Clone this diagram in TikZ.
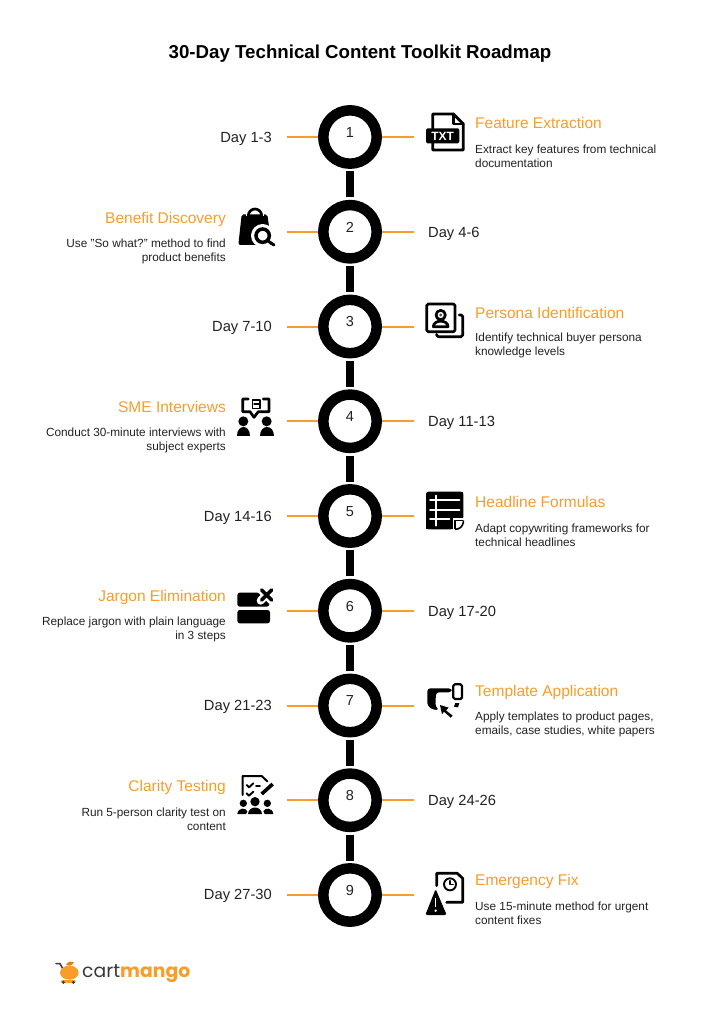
\documentclass[tikz,border=0pt]{standalone}
\usepackage{fontspec}
\setmainfont{Liberation Sans}
\newfontfamily\logofont{Poppins}
\definecolor{accent}{HTML}{F99D2A}
\definecolor{ink}{HTML}{222222}
\definecolor{logodark}{HTML}{3A3A3A}
\tikzset{
  ring/.style={circle,draw=black,fill=white,line width=10.5pt,minimum size=53.4pt,inner sep=0pt},
  spine/.style={line width=8.6pt,black,shorten >=2.5pt,shorten <=2.5pt},
  tick/.style={accent,line width=1.6pt},
  num/.style={text=ink,font=\fontsize{14.5}{16}\selectfont,inner sep=0pt},
  daylabel/.style={text=ink,font=\fontsize{14.7}{16}\selectfont,inner sep=0pt},
  headR/.style={text=accent,anchor=west,inner sep=0pt,font=\fontsize{15.5}{18}\selectfont},
  headL/.style={text=accent,anchor=east,inner sep=0pt,font=\fontsize{15.5}{18}\selectfont},
  descR/.style={text=ink,anchor=west,align=left,inner sep=0pt,font=\fontsize{11.8}{14}\selectfont},
  descL/.style={text=ink,anchor=east,align=right,inner sep=0pt,font=\fontsize{11.8}{14}\selectfont},
  iconbox/.style 2 args={shift={(#1,#2)},x=.3333pt,y=-.3333pt},
  o/.style={line width=2.7pt,line join=round,line cap=round,black},
  w/.style={line width=2pt,white,line cap=round},
}
\begin{document}
\begin{tikzpicture}[x=1pt,y=-1pt]
\useasboundingbox (0,0) rectangle (719,1024);
\fill[white] (0,0) rectangle (719,1024);
\node[inner sep=0pt,font=\bfseries\fontsize{18.7}{20}\selectfont,text=black] (title) at (360,54) {30-Day Technical Content Toolkit Roadmap};
% rings, ticks, numbers
\foreach \i in {1,...,9}{
  \pgfmathsetmacro\yy{137+94.75*(\i-1)}
  \pgfmathsetmacro\ny{\yy-4.5}
  \pgfmathsetmacro\ty{round(\yy)}
  \node[ring] (c\i) at (350,\yy) {};
  \node[num] (n\i) at (350,\ny) {\i};
  \coordinate (l\i) at (287,\ty);
  \coordinate (r\i) at (414,\ty);
  \draw[tick] (c\i.west |- l\i) -- (l\i);
  \draw[tick] (c\i.east |- r\i) -- (r\i);
}
\foreach \a/\b in {1/2,2/3,3/4,4/5,5/6,6/7,7/8,8/9}{\draw[spine] (c\a) -- (c\b);}
% day labels
\node[daylabel,anchor=east] (d1) at (272,138.7) {Day 1-3};
\node[daylabel,anchor=west] (d2) at (428,233.7) {Day 4-6};
\node[daylabel,anchor=east] (d3) at (272,328) {Day 7-10};
\node[daylabel,anchor=west] (d4) at (428,422.7) {Day 11-13};
\node[daylabel,anchor=east] (d5) at (272,517.7) {Day 14-16};
\node[daylabel,anchor=west] (d6) at (428,612.7) {Day 17-20};
\node[daylabel,anchor=east] (d7) at (272,707) {Day 21-23};
\node[daylabel,anchor=west] (d8) at (428,801.7) {Day 24-26};
\node[daylabel,anchor=east] (d9) at (272,896) {Day 27-30};
% texts
\node[headR] (h1) at (475,123) {Feature Extraction};
\node[descR] (t1) at (475,156.5) {Extract key features from technical\\documentation};
\node[headL] (h2) at (226,219) {Benefit Discovery};
\node[descL] (t2) at (226,251) {Use {\char34}So what?{\char34} method to find\\product benefits};
\node[headR] (h3) at (475,312.5) {Persona Identification};
\node[descR] (t3) at (475,345.5) {Identify technical buyer persona\\knowledge levels};
\node[headL] (h4) at (226,407) {SME Interviews};
\node[descL] (t4) at (226,440.5) {Conduct 30-minute interviews with\\subject experts};
\node[headR] (h5) at (475,502) {Headline Formulas};
\node[descR] (t5) at (475,535) {Adapt copywriting frameworks for\\technical headlines};
\node[headL] (h6) at (226,597) {Jargon Elimination};
\node[descL] (t6) at (226,629.5) {Replace jargon with plain language\\in 3 steps};
\node[headR] (h7) at (475,692) {Template Application};
\node[descR] (t7) at (475,724) {Apply templates to product pages,\\emails, case studies, white papers};
\node[headL] (h8) at (226,787) {Clarity Testing};
\node[descL] (t8) at (226,819) {Run 5-person clarity test on\\content};
\node[headR] (h9) at (475,881) {Emergency Fix};
\node[descR] (t9) at (475,913.5) {Use 15-minute method for urgent\\content fixes};
% icon 1: TXT file
\begin{scope}[iconbox={420}{100}]
  \draw[o] (38,85) -- (38,42) -- (100,42) -- (130,72) -- (130,150) -- (38,150) -- (38,130);
  \draw[o] (100,42) -- (100,72) -- (130,72);
  \fill[black,rounded corners=1.5pt] (18,85) rectangle (118,130);
  \node[text=white,inner sep=0pt,font=\bfseries\fontsize{12}{12}\selectfont] (txt) at (68,108) {TXT};
\end{scope}
% icon 2: bag with magnifier
\begin{scope}[iconbox={230}{195}]
  \fill[black,rounded corners=2pt] (35,58) -- (112,58) -- (125,150) -- (25,150) -- cycle;
  \draw[o] (55,70) -- (55,62) arc[start angle=180,end angle=360,x radius=20,y radius=20] -- (95,70);
  \draw[white,line width=1.2pt] (50,58) -- (50,64) (100,58) -- (100,64);
  \fill[white] (98,122) circle (35);
  \draw[black,line width=3.5pt] (98,122) circle (20);
  \draw[black,line width=3pt,line cap=round] (114,138) -- (132,150);
\end{scope}
% icon 3: persona
\begin{scope}[iconbox={420}{295}]
  \draw[o,rounded corners=1.5pt] (20,27) rectangle (105,110);
  \draw[o,rounded corners=1.5pt] (118,60) -- (128,60) -- (128,125) -- (50,125) -- (50,118);
  \draw[o] (62,60) circle (14);
  \fill[black!70] (62,60) circle (5);
  \draw[o] (40,95) .. controls (40,73) and (84,73) .. (84,95) -- cycle;
\end{scope}
% icon 4: SME interview
\begin{scope}[iconbox={230}{390}]
  \draw[o] (55,27) -- (38,27) -- (38,65) -- (60,65) -- (72,82) -- (85,65) -- (117,65) -- (117,27) -- (100,27);
  \draw[o,line width=1.5pt] (68,30) rectangle (90,55);
  \draw[o,line width=1.2pt] (72,42) -- (86,42);
  \fill[black] (40,94) circle (15);
  \fill[black] (21,137) .. controls (21,103) and (61,103) .. (61,137) -- cycle;
  \fill[black] (110,94) circle (15);
  \fill[black] (91,137) .. controls (91,103) and (131,103) .. (131,137) -- cycle;
\end{scope}
% icon 5: headline formulas
\begin{scope}[iconbox={420}{485}]
  \fill[black,rounded corners=2.5pt] (18,20) -- (130,20) -- (130,103) -- (100,133) -- (18,133) -- cycle;
  \fill[white] (98,135) -- (98,100) -- (132,100) -- (132,135) -- cycle;
  \fill[black] (18,100) rectangle (100,133);
  \fill[black] (100,20) rectangle (130,100);
  \draw[w] (47,32) -- (47,122);
  \draw[w] (30,45) -- (118,45);
  \draw[w] (30,75) -- (118,75);
  \draw[w] (30,103) -- (88,103);
  \draw[black,line width=1.6pt,line join=round] (105,133) -- (105,106) -- (130,106);
  \draw[black,line width=1.6pt,line join=round] (130,106) -- (130,112) .. controls (128,125) and (118,133) .. (105,133);
\end{scope}
% icon 6: jargon elimination
\begin{scope}[iconbox={230}{580}]
  \fill[black,rounded corners=2.5pt] (22,38) rectangle (118,80);
  \fill[black,rounded corners=2.5pt] (22,90) rectangle (120,130);
  \draw[white,line width=8pt,line cap=round] (92,28) -- (125,62) (125,28) -- (92,62);
  \draw[black,line width=3.6pt,line cap=round] (95,30) -- (125,60) (125,30) -- (95,60);
\end{scope}
% icon 7: template application
\begin{scope}[iconbox={420}{675}]
  \fill[black,rounded corners=3pt] (22,40) -- (95,40) -- (95,52) -- (48,52) -- (46,95) -- (58,104) -- (40,105) -- (22,92) -- cycle;
  \fill[black] (106,84) -- (118,84) -- (114,97) -- (102,95) -- cycle;
  \draw[o,line width=2.2pt,rounded corners=1.5pt] (100,28) rectangle (126,72);
  \fill[black] (60,90) -- (86,98) -- (78,106) -- (98,122) -- (92,128) -- (72,110) -- (66,118) -- cycle;
\end{scope}
% icon 8: clarity testing
\begin{scope}[iconbox={230}{770}]
  \draw[o,line width=2pt] (38,75) -- (38,18) -- (95,18) -- (112,34);
  \draw[o,line width=1.9pt] (50,45) -- (57,52) -- (70,40);
  \draw[o,line width=1.9pt] (78,47) -- (90,47);
  \draw[o,line width=1.9pt] (50,70) -- (57,77) -- (70,65);
  \draw[black,line width=3.6pt] (95,72) -- (128,42);
  \fill[black] (40,100) circle (11);
  \fill[black] (112,100) circle (11);
  \fill[black] (75,95) circle (14);
  \fill[black] (22,132) .. controls (24,112) and (48,112) .. (52,124) -- (48,132) -- cycle;
  \fill[black] (130,132) .. controls (128,112) and (104,112) .. (100,124) -- (104,132) -- cycle;
  \fill[black] (54,132) .. controls (56,106) and (94,106) .. (96,132) -- cycle;
\end{scope}
% icon 9: emergency fix
\begin{scope}[iconbox={420}{865}]
  \draw[o] (50,62) -- (50,25) -- (112,25) -- (128,40) -- (128,112) -- (80,112);
  \draw[o,line width=1.9pt] (90,58) circle (18);
  \draw[o,line width=1.4pt] (90,47) -- (90,58) -- (100,58);
  \fill[black,rounded corners=1.5pt] (47,72) -- (80,150) -- (16,150) -- cycle;
  \draw[white,line width=1.5pt] (47,98) -- (47,126);
  \fill[white] (47,137) circle (3.8);
\end{scope}
% logo
\begin{scope}[iconbox={40}{950}]
  \draw[logodark,line width=1.5pt,line cap=round,line join=round] (48,41) -- (60,41) -- (72,62);
  \fill[accent] (88,68) ellipse (28 and 21);
  \fill[accent!85!black] (78,45) .. controls (83,33) and (95,33) .. (102,38) .. controls (95,48) and (85,50) .. (78,45) -- cycle;
  \draw[accent,line width=2.4pt,line cap=round] (66,94) -- (104,94);
  \fill[logodark] (70,97) circle (5);
  \fill[logodark] (100,97) circle (5);
\end{scope}
\node[anchor=west,inner sep=0pt,font=\logofont\fontsize{18.8}{24}\selectfont] (logo) at (82,974) {\textcolor{logodark}{cart}\textcolor{accent}{\bfseries mango}};
\end{tikzpicture}
\end{document}
